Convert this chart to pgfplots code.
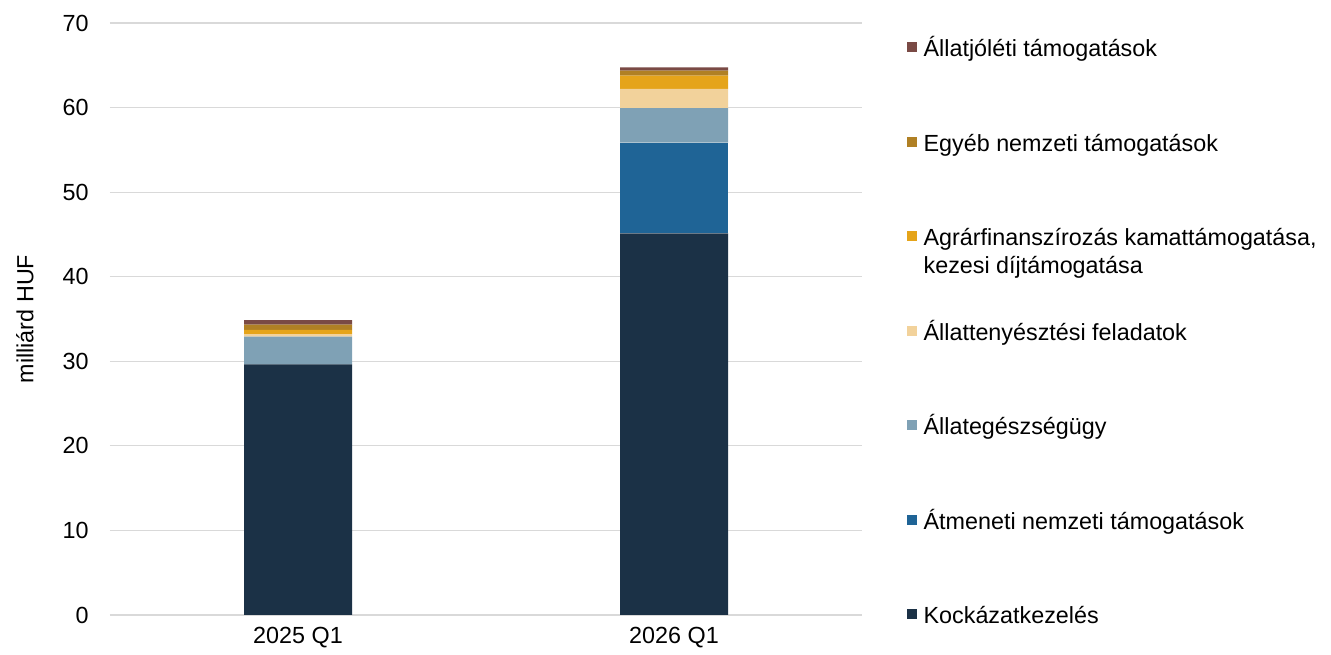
\documentclass[border=0pt]{standalone}
\usepackage{pgfplots}
\pgfplotsset{compat=1.18}
\usepackage{fontspec}
\setmainfont{Liberation Sans}
\definecolor{cKock}{HTML}{1B3146}
\definecolor{cAtm}{HTML}{1F6496}
\definecolor{cEg}{HTML}{7FA1B5}
\definecolor{cTeny}{HTML}{F2D29B}
\definecolor{cAgr}{HTML}{E5A41A}
\definecolor{cEgy}{HTML}{B08024}
\definecolor{cJol}{HTML}{7A4A45}
\begin{document}
\fontsize{17.5}{21}\selectfont
\begin{tikzpicture}
\begin{axis}[
  scale only axis,
  width=564pt, height=444pt,
  ybar stacked,
  bar width=81pt,
  xmin=-0.5, xmax=1.5,
  ymin=0, ymax=70,
  xtick={0,1},
  xticklabels={2025 Q1,2026 Q1},
  ytick={0,10,...,70},
  major tick length=0pt,
  axis line style={draw=none},
  axis x line*=bottom,
  ymajorgrids,
  grid style={draw=black!15, line width=0.8pt},
  tick label style={font=\fontsize{17.5}{21}\selectfont},
  /pgf/number format/assume math mode=true,
  yticklabel style={xshift=-10pt},
  xticklabel style={yshift=-3pt},
  ylabel={milliárd HUF},
  ylabel style={at={(axis description cs:-0.113,0.5)}, anchor=center, font=\fontsize{17.5}{21}\selectfont},
  reverse legend,
  legend cell align=left,
  legend image code/.code={\fill[#1, draw=none] (0pt,-1.2pt) rectangle (7.5pt,6.3pt);},
  legend style={draw=none, fill=none, inner sep=0pt, outer sep=0pt,
    at={(rel axis cs:1.0598,0.9718)}, anchor=north west,
    row sep=54.7pt, column sep=5pt,
    nodes={inner sep=0pt, text height=12.6pt, text depth=3.6pt, font=\fontsize{17.5}{21}\selectfont}},
]
\addplot[fill=cKock, draw=none] coordinates {(0,29.64) (1,45.13)};
\addlegendentry{Kockázatkezelés}
\addplot[fill=cAtm, draw=none] coordinates {(0,0) (1,10.72)};
\addlegendentry{Átmeneti nemzeti támogatások}
\addplot[fill=cEg, draw=none] coordinates {(0,3.27) (1,4.07)};
\addlegendentry{Állategészségügy}
\addplot[fill=cTeny, draw=none] coordinates {(0,0.31) (1,2.28)};
\addlegendentry{Állattenyésztési feladatok}
\addplot[fill=cAgr, draw=none] coordinates {(0,0.48) (1,1.57)};
\addlegendentry{\smash{\begin{tabular}[t]{@{}l@{}}Agrárfinanszírozás kamattámogatása,\\[-0.3pt] kezesi díjtámogatása\end{tabular}}}
\addplot[fill=cEgy, draw=none] coordinates {(0,0.63) (1,0.59)};
\addlegendentry{Egyéb nemzeti támogatások}
\addplot[fill=cJol, draw=none] coordinates {(0,0.55) (1,0.40)};
\addlegendentry{Állatjóléti támogatások}
\end{axis}
\pgfresetboundingbox
\path ([shift={(-82.5pt,-30pt)}]current axis.south west) rectangle ([shift={(351.75pt,17.25pt)}]current axis.north east);
\end{tikzpicture}
\end{document}
